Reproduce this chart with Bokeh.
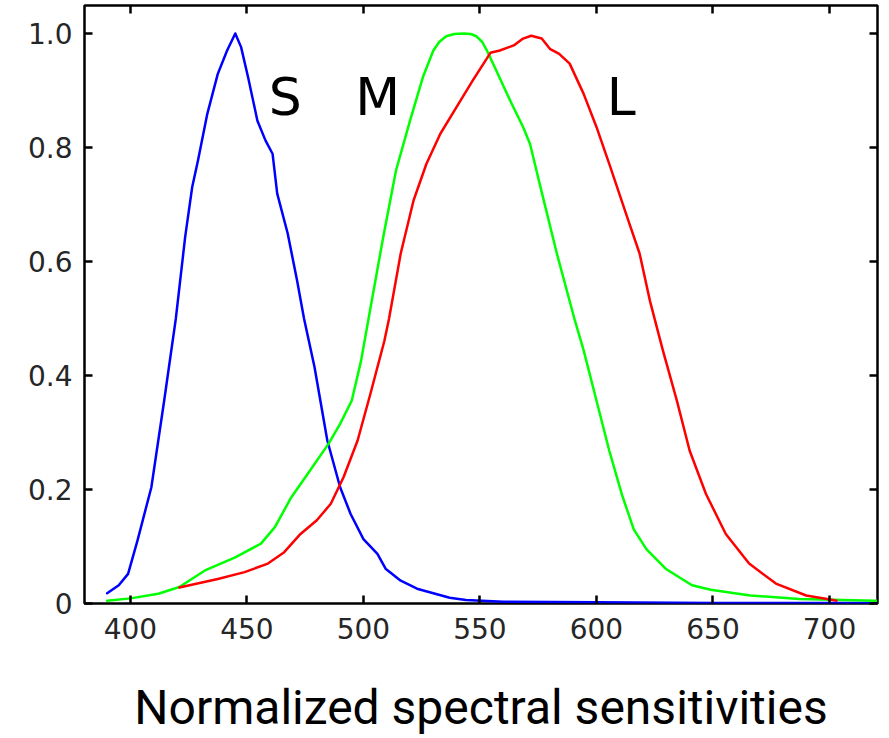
from bokeh.plotting import figure
from bokeh.models import LinearAxis, FixedTicker, Label, CustomLabelingPolicy
from bokeh.embed import file_html
from bokeh.resources import INLINE

# Wavelengths (nm) and normalized sensitivities
S_wl = [390, 395, 399, 403, 409, 414.5, 419.5, 423.5, 426.5, 429, 433, 437.5, 441.5, 445,
        447.5, 450.5, 454.5, 458, 461, 463, 467.5, 471.5, 474.5, 479, 484.5, 490, 494.5,
        500, 506, 509.5, 516, 523, 530, 537, 544, 560, 600, 650, 720]
S_val = [0.018, 0.032, 0.052, 0.11, 0.204, 0.356, 0.5, 0.643, 0.73, 0.777, 0.859, 0.929,
         0.97, 1.0, 0.976, 0.923, 0.847, 0.812, 0.789, 0.719, 0.649, 0.567, 0.5, 0.415,
         0.286, 0.204, 0.157, 0.113, 0.087, 0.061, 0.04, 0.026, 0.018, 0.01, 0.006, 0.003,
         0.002, 0.001, 0.001]

M_wl = [390, 400, 412, 421, 432, 445, 456, 462, 469, 477, 485, 490, 495, 499, 502, 508.5,
        514, 520, 525.5, 530, 532.5, 535.5, 539, 543, 546, 548.5, 551, 553, 557, 563, 568.5,
        571.5, 576, 583, 590.5, 594.5, 600, 605.5, 611, 616, 621.5, 630, 641, 649, 666, 687,
        720]
M_val = [0.005, 0.009, 0.017, 0.029, 0.058, 0.081, 0.105, 0.134, 0.186, 0.233, 0.28, 0.315,
         0.356, 0.426, 0.495, 0.643, 0.76, 0.847, 0.923, 0.97, 0.985, 0.995, 0.999, 1.0,
         0.999, 0.995, 0.985, 0.97, 0.935, 0.882, 0.836, 0.806, 0.73, 0.614, 0.5, 0.444,
         0.356, 0.268, 0.19, 0.13, 0.095, 0.06, 0.032, 0.024, 0.014, 0.008, 0.005]

L_wl = [421, 437.5, 449, 459, 466, 473, 480, 486, 491.5, 497.5, 503, 509, 511, 516, 521.5,
        527, 533, 540, 547, 554.5, 558.5, 564.5, 568.5, 572, 576.5, 580, 584, 588.5, 594.5,
        600, 606, 613, 618.5, 623, 628.5, 634.5, 640, 647, 655.5, 665.5, 677, 690, 701.5, 703]
L_val = [0.028, 0.043, 0.055, 0.07, 0.09, 0.122, 0.146, 0.175, 0.222, 0.286, 0.368, 0.461,
         0.5, 0.614, 0.707, 0.771, 0.824, 0.871, 0.918, 0.966, 0.97, 0.979, 0.991, 0.996,
         0.991, 0.973, 0.964, 0.947, 0.894, 0.836, 0.765, 0.68, 0.614, 0.53, 0.444, 0.356,
         0.268, 0.192, 0.122, 0.07, 0.035, 0.014, 0.006, 0.005]

x_ticks = [400, 450, 500, 550, 600, 650, 700]
y_ticks = [0, 0.2, 0.4, 0.6, 0.8, 1.0]
y_tick_labels = ["0", "0.2", "0.4", "0.6", "0.8", "1.0"]

cone_names = ["S", "M", "L"]
cone_label_x = [466.4, 506.1, 610.6]
cone_label_y = [0.888, 0.888, 0.888]

title_text = "Normalized spectral sensitivities"

p = figure(width=889, height=738, x_range=(380.3, 720.6), y_range=(0, 1.049),
           output_backend="svg", toolbar_location=None,
           min_border_left=84, min_border_right=12, min_border_top=5, min_border_bottom=135)
p.background_fill_color = "white"
p.border_fill_color = "white"
p.outline_line_color = "black"
p.outline_line_width = 2.5
p.grid.visible = False

for xs, ys, col in ((S_wl, S_val, "#0000ff"), (M_wl, M_val, "#00ff00"), (L_wl, L_val, "#ff0000")):
    p.line(xs, ys, line_color=col, line_width=2.5, line_join="round", line_cap="round")

for name, lx, ly in zip(cone_names, cone_label_x, cone_label_y):
    p.add_layout(Label(x=lx, y=ly, text=name, text_align="center", text_baseline="alphabetic",
                       text_font="DejaVu Sans", text_font_size="52px", text_color="black"))

tick_color = "#262626"
label_font = "DejaVu Sans"

xa = p.xaxis[0]
xa.ticker = FixedTicker(ticks=x_ticks)
xa.major_tick_in = 8
xa.major_tick_out = 0
xa.minor_tick_in = 0
xa.minor_tick_out = 0
xa.major_tick_line_width = 2.5
xa.major_tick_line_color = "black"
xa.axis_line_color = None
xa.major_label_text_font = label_font
xa.major_label_text_font_size = "28px"
xa.major_label_text_color = tick_color
xa.major_label_standoff = 14
xa.axis_label = title_text
xa.axis_label_text_font = "Roboto"
xa.axis_label_text_font_style = "normal"
xa.axis_label_text_font_size = "48px"
xa.axis_label_text_color = "black"
xa.axis_label_standoff = 37

ya = p.yaxis[0]
ya.ticker = FixedTicker(ticks=y_ticks)
ya.major_label_overrides = {t: s for t, s in zip(y_ticks, y_tick_labels)}
ya.major_tick_in = 8
ya.major_tick_out = 0
ya.minor_tick_in = 0
ya.minor_tick_out = 0
ya.major_tick_line_width = 2.5
ya.major_tick_line_color = "black"
ya.axis_line_color = None
ya.major_label_text_font = label_font
ya.major_label_text_font_size = "28px"
ya.major_label_text_color = tick_color
ya.major_label_standoff = 12

hide_all = CustomLabelingPolicy(code="""
for (const i of indices)
    indices.unset(i)
return indices
""")

top = LinearAxis(ticker=FixedTicker(ticks=x_ticks), major_tick_in=8, major_tick_out=0,
                 minor_tick_in=0, minor_tick_out=0, major_tick_line_width=2.5,
                 axis_line_color=None, major_label_policy=hide_all,
                 major_label_text_font_size="1px", major_label_standoff=0)
right = LinearAxis(ticker=FixedTicker(ticks=y_ticks), major_tick_in=8, major_tick_out=0,
                   minor_tick_in=0, minor_tick_out=0, major_tick_line_width=2.5,
                   axis_line_color=None, major_label_policy=hide_all,
                   major_label_text_font_size="1px", major_label_standoff=0)
p.add_layout(top, "above")
p.add_layout(right, "right")

open("out.html", "w").write(file_html(p, INLINE))
